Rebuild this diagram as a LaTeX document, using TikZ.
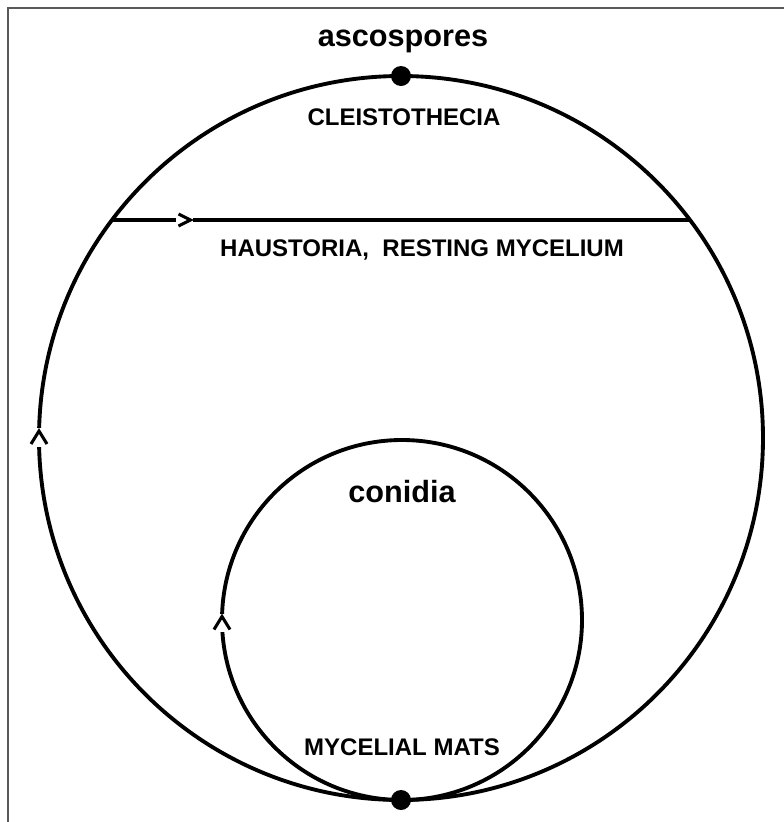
\documentclass[tikz,border=0pt]{standalone}
\usepackage{fontspec}
\setmainfont{Liberation Sans}
\begin{document}
\begin{tikzpicture}[x=0.75pt,y=-0.75pt]
    % Define styles for rings, spots, marks and labels
    \tikzstyle{ring} = [draw, line width=2.9pt]
    \tikzstyle{spot} = [circle, fill=black, inner sep=0pt, minimum size=15pt]
    \tikzstyle{caps} = [font=\fontsize{18}{20}\selectfont\bfseries, anchor=base, inner sep=0pt]
    \tikzstyle{lower} = [font=\fontsize{23}{26}\selectfont\bfseries, anchor=base, inner sep=0pt]
    \tikzstyle{vgap} = [fill=white, inner sep=0pt, minimum width=7pt, minimum height=14pt]
    \tikzstyle{hgap} = [fill=white, inner sep=0pt, minimum width=12.5pt, minimum height=7pt]
    \tikzstyle{chev} = [draw, line width=2.3pt, miter limit=4]

    \useasboundingbox (0,0) rectangle (784,822);
    % frame (top and left edge only)
    \draw[gray!70!black, line width=1.5pt] (8,822) -- (8,8) -- (784,8);

    % Draw the two cycles
    \coordinate (outer) at (401,438);
    \coordinate (inner) at (402,620);
    \draw[ring] (outer) circle[radius=362];
    \draw[ring] (inner) circle[radius=180];

    % chord across the big cycle
    \coordinate (chordL) at (112,220);
    \coordinate (chordR) at (690,220);
    \draw[ring] (chordL) -- (chordR);

    % direction marks
    \node(enter)[hgap] at (184.5,220) {};
    \draw[chev] (enter) ++(-6,-6) -- ++(12,6) -- ++(-12,6);
    \node(climbA)[vgap] at (39,437.5) {};
    \draw[chev] (climbA) ++(-8,6.5) -- ++(8,-13) -- ++(8,13);
    \node(climbB)[vgap] at (222,623) {};
    \draw[chev] (climbB) ++(-8,6.5) -- ++(8,-13) -- ++(8,13);

    % spores and mats
    \node(asco)[spot] at (401,76) {};
    \node(mats)[spot] at (401,800) {};

    \node(ascolabel)[lower] at (403,46) {ascospores};
    \node(cleisto)[caps] at (404,125) {CLEISTOTHECIA};
    \node(haust)[caps] at (422,256) {HAUSTORIA,\ \ RESTING MYCELIUM};
    \node(conlabel)[lower] at (402,502) {conidia};
    \node(matlabel)[caps] at (402,755) {MYCELIAL MATS};
\end{tikzpicture}
\end{document}
